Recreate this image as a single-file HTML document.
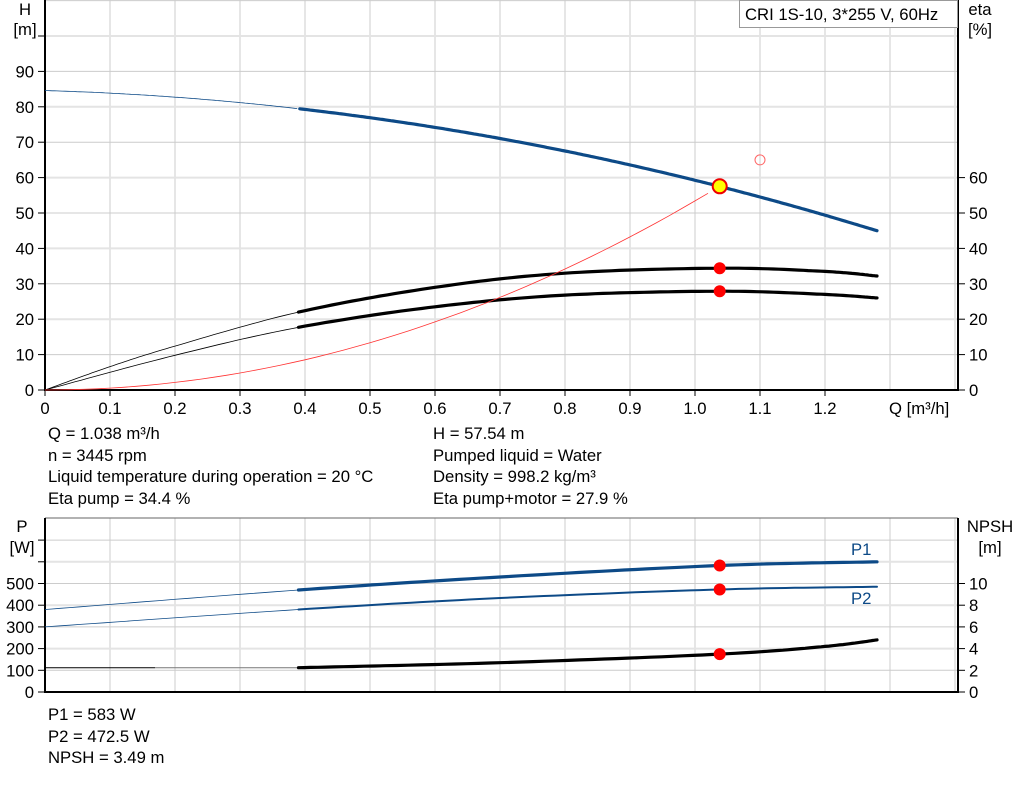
<!DOCTYPE html>
<html><head><meta charset="utf-8"><style>
body{margin:0;background:#fff;width:1024px;height:781px;overflow:hidden}
svg{font-family:"Liberation Sans",sans-serif;font-size:16.7px}
</style></head><body>
<svg id="s" width="1024" height="781" xmlns="http://www.w3.org/2000/svg"></svg>
<script>
const X=q=>45+q*650, YH=h=>390-h*3.54, YP=p=>692-p*0.217;
let o='';
for(let i=1;i<=14;i++){let x=45+i*65;if(x<958)o+=`<line x1="${x}" y1="0" x2="${x}" y2="390" stroke="#ccc"/>`;}
for(let h=10;h<=110;h+=10){let y=YH(h);if(y>0)o+=`<line x1="45" y1="${y}" x2="958" y2="${y}" stroke="${h%20?'#ccc':'#e4e4e4'}" stroke-width="${h%20?1:2}"/>`;}
for(let i=1;i<=14;i++){let x=45+i*65;if(x<958)o+=`<line x1="${x}" y1="518" x2="${x}" y2="692" stroke="#ccc"/>`;}
for(let p=100;p<=700;p+=100){let y=YP(p);o+=`<line x1="45" y1="${y}" x2="958" y2="${y}" stroke="${p%200?'#ccc':'#e4e4e4'}" stroke-width="${p%200?1:2}"/>`;}
o+=`<line x1="45" y1="0" x2="45" y2="391" stroke="#000" stroke-width="2"/><line x1="44" y1="390" x2="958" y2="390" stroke="#000" stroke-width="2"/><line x1="958" y1="0" x2="958" y2="391" stroke="#000" stroke-width="2"/>`;
o+=`<line x1="45" y1="518" x2="958" y2="518" stroke="#666"/><line x1="45" y1="518" x2="45" y2="693" stroke="#000" stroke-width="2"/><line x1="44" y1="692" x2="958" y2="692" stroke="#000" stroke-width="2"/><line x1="958" y1="518" x2="958" y2="693" stroke="#000" stroke-width="2"/>`;
for(let h=0;h<=100;h+=10){let y=YH(h);o+=`<line x1="38" y1="${y}" x2="45" y2="${y}" stroke="#000"/>`;if(h<=90)o+=`<text x="34" y="${y+6}" text-anchor="end">${h}</text>`;}
for(let h=0;h<=60;h+=10){let y=YH(h);o+=`<line x1="958" y1="${y}" x2="965" y2="${y}" stroke="#000"/><text x="969" y="${y+6}">${h}</text>`;}
for(let i=0;i<=12;i++){let x=45+i*65;o+=`<line x1="${x}" y1="390" x2="${x}" y2="396" stroke="#000"/><text x="${x}" y="414" text-anchor="middle">${i==0?'0':(i/10).toFixed(1)}</text>`;}
o+=`<text x="889" y="414">Q [m³/h]</text>`;
o+=`<text x="25" y="15" text-anchor="middle">H</text><text x="25" y="35" text-anchor="middle">[m]</text><text x="980" y="15" text-anchor="middle">eta</text><text x="980" y="35" text-anchor="middle">[%]</text>`;
o+=`<rect x="739.5" y="0.5" width="218" height="27" fill="#fff" stroke="#999"/><text x="745" y="20">CRI 1S-10, 3*255 V, 60Hz</text>`;
for(let p=0;p<=700;p+=100){let y=YP(p);o+=`<line x1="38" y1="${y}" x2="45" y2="${y}" stroke="#000"/>`;if(p<=500)o+=`<text x="34" y="${y+6}" text-anchor="end">${p}</text>`;}
for(let n=0;n<=10;n+=2){let y=YP(n*50);o+=`<line x1="958" y1="${y}" x2="965" y2="${y}" stroke="#000"/><text x="969" y="${y+6}">${n}</text>`;}
o+=`<text x="22" y="532" text-anchor="middle">P</text><text x="22" y="553" text-anchor="middle">[W]</text><text x="990" y="532" text-anchor="middle">NPSH</text><text x="990" y="553" text-anchor="middle">[m]</text>`;
function cr(pts,Y,a,b){let r=[];for(let i=0;i<pts.length-1;i++){let p0=pts[Math.max(i-1,0)],p1=pts[i],p2=pts[i+1],p3=pts[Math.min(i+2,pts.length-1)];for(let t=0;t<1;t+=0.05){let t2=t*t,t3=t2*t;let f=(a0,a1,a2,a3)=>0.5*(2*a1+(-a0+a2)*t+(2*a0-5*a1+4*a2-a3)*t2+(-a0+3*a1-3*a2+a3)*t3);let q=f(p0[0],p1[0],p2[0],p3[0]),v=f(p0[1],p1[1],p2[1],p3[1]);if(q>=a-1e-9&&q<=b+1e-9)r.push(X(q).toFixed(1)+','+Y(v).toFixed(1));}}let l=pts[pts.length-1];if(l[0]<=b)r.push(X(l[0])+','+Y(l[1]));return r.join(' ');}
function draw(pts,Y,col,split,w){o+=`<polyline points="${cr(pts,Y,0,split)}" fill="none" stroke="${col}" stroke-width="0.8"/>`;o+=`<polyline points="${cr(pts,Y,split,9)}" fill="none" stroke="${col}" stroke-width="${w||3.2}" stroke-linecap="round"/>`;}
let H=[];for(let q=0;q<=1.2801;q+=0.08)H.push([q,84.6-5.38*q-19.97*q*q]);
draw(H,YH,'#0d4a87',0.39);
draw([[0,0],[0.1,6.6],[0.2,12.4],[0.39,22],[0.6,29],[0.8,33],[1.038,34.4],[1.2,33.5],[1.28,32.2]],YH,'#000',0.39);
draw([[0,0],[0.2,9.8],[0.39,17.7],[0.6,23.5],[0.8,26.8],[1.038,27.9],[1.2,27],[1.28,26]],YH,'#000',0.39);
let sys=[];for(let q=0;q<=1.0381;q+=0.02)sys.push(X(q).toFixed(1)+','+YH(57.54*(q/1.038)**2).toFixed(1));
o+=`<polyline points="${sys.join(' ')}" fill="none" stroke="#f33" stroke-width="0.8"/>`;
o+=`<circle cx="${X(1.1)}" cy="${YH(65)}" r="5" fill="none" stroke="#f66"/>`;
o+=`<circle cx="${X(1.038)}" cy="${YH(57.54)}" r="7" fill="#ff0" stroke="#e00" stroke-width="2"/>`;
o+=`<circle cx="${X(1.038)}" cy="${YH(34.4)}" r="6" fill="#f00"/><circle cx="${X(1.038)}" cy="${YH(27.9)}" r="6" fill="#f00"/>`;
draw([[0,380],[0.39,470],[0.7,530],[1.038,583],[1.28,600]],YP,'#0d4a87',0.39);
draw([[0,300],[0.39,380],[0.7,433],[1.038,472.5],[1.28,485]],YP,'#0d4a87',0.39,2);
o+=`<line x1="45" y1="${YP(112)}" x2="155" y2="${YP(112)}" stroke="#000" stroke-width="1"/><line x1="155" y1="${YP(112)}" x2="${X(0.39)}" y2="${YP(112)}" stroke="#777" stroke-width="1"/>`;
o+=`<polyline points="${cr([[0.39,112],[0.7,135],[1.038,174.5],[1.2,210],[1.28,240]],YP,0.39,9)}" fill="none" stroke="#000" stroke-width="3.2" stroke-linecap="round"/>`;
o+=`<circle cx="${X(1.038)}" cy="${YP(583)}" r="6" fill="#f00"/><circle cx="${X(1.038)}" cy="${YP(472.5)}" r="6" fill="#f00"/><circle cx="${X(1.038)}" cy="${YP(174.5)}" r="6" fill="#f00"/>`;
o+=`<text x="851" y="555" fill="#0d4a87">P1</text><text x="851" y="604" fill="#0d4a87">P2</text>`;
const t=[[48,439,'Q = 1.038 m³/h'],[48,461,'n = 3445 rpm'],[48,482,'Liquid temperature during operation = 20 °C'],[48,504,'Eta pump = 34.4 %'],[433,439,'H = 57.54 m'],[433,461,'Pumped liquid = Water'],[433,482,'Density = 998.2 kg/m³'],[433,504,'Eta pump+motor = 27.9 %'],[48,720,'P1 = 583 W'],[48,742,'P2 = 472.5 W'],[48,763,'NPSH = 3.49 m']];
t.forEach(a=>o+=`<text x="${a[0]}" y="${a[1]}">${a[2]}</text>`);
document.getElementById('s').innerHTML=o;
</script>
</body></html>
